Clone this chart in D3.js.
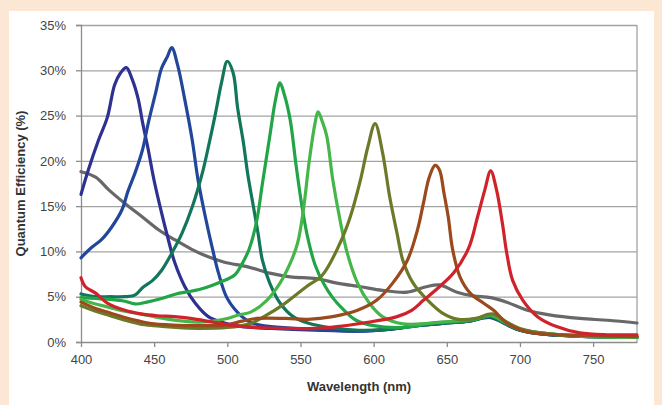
<!DOCTYPE html>
<meta charset="utf-8">
<style>
  body { margin: 0; background: #fce6d4; }
  svg { display: block; }
  .tick text { font-family: "Liberation Sans", Arial, sans-serif; font-size: 13px; fill: #444; }
  .title { font-family: "Liberation Sans", Arial, sans-serif; font-size: 13px; font-weight: bold; fill: #333; }
  .line { fill: none; stroke-width: 3.2; stroke-linejoin: round; stroke-linecap: round; }
</style>
<body>
<div id="chart"></div>
<script src="https://d3js.org/d3.v7.min.js"></script>
<script>
// axis ticks
var xTicks = [400, 450, 500, 550, 600, 650, 700, 750];
var yTicks = [0, 5, 10, 15, 20, 25, 30, 35];

// series: [wavelength nm, QE %]
var qe430 = [[400,16.3],[405,19.0],[412,22.3],[418,24.8],[423,28.4],[427,29.7],[431,30.3],[435,29.0],[439,26.9],[442,24.3],[446,21.2],[450,17.8],[455,14.3],[460,11.1],[464,8.8],[471,6.1],[478,4.3],[487,2.8],[498,2.1],[510,1.7],[530,1.5],[560,1.3],[590,1.2],[610,1.4],[630,1.8],[650,2.1],[665,2.3],[680,2.7],[690,2.0],[700,1.3],[720,0.8],[750,0.6],[780,0.5]];
var qe462 = [[400,9.3],[407,10.4],[414,11.3],[421,12.7],[428,14.6],[432,16.6],[437,18.7],[442,21.2],[446,24.2],[451,27.5],[455,30.2],[459,31.5],[462,32.5],[466,30.6],[471,26.7],[476,22.3],[480,17.9],[485,13.8],[490,10.2],[494,7.6],[500,4.8],[510,2.8],[517,2.1],[530,1.7],[560,1.4],[590,1.2],[610,1.4],[630,1.8],[650,2.1],[665,2.3],[680,2.8],[690,2.0],[700,1.3],[720,0.8],[750,0.6],[780,0.5]];
var qe500 = [[400,5.3],[410,5.0],[420,5.0],[430,5.0],[437,5.2],[442,6.0],[449,6.8],[455,7.9],[462,9.8],[469,12.0],[476,14.9],[483,18.7],[487,21.5],[492,25.3],[496,28.6],[500,31.0],[504,29.7],[507,25.9],[511,22.0],[514,18.5],[518,14.8],[521,12.0],[524,9.0],[529,6.5],[536,4.3],[545,2.8],[555,2.1],[570,1.6],[590,1.3],[610,1.4],[630,1.8],[650,2.1],[665,2.3],[680,2.8],[690,2.0],[700,1.3],[720,0.8],[750,0.6],[780,0.5]];
var qe536 = [[400,4.9],[410,4.8],[420,4.7],[430,4.5],[437,4.2],[445,4.4],[455,4.8],[465,5.3],[475,5.6],[485,6.0],[495,6.6],[505,7.4],[510,8.6],[515,10.3],[520,13.3],[524,17.5],[529,22.7],[533,26.8],[536,28.6],[539,27.3],[543,24.5],[547,19.5],[551,15.0],[555,11.5],[560,8.5],[566,6.4],[572,4.9],[578,3.8],[588,2.4],[600,1.8],[620,1.6],[640,2.1],[660,2.3],[670,2.5],[680,2.9],[690,2.1],[700,1.4],[720,0.9],[750,0.6],[780,0.5]];
var qe562 = [[400,4.7],[410,4.2],[420,3.8],[430,3.4],[440,3.1],[450,2.8],[460,2.5],[470,2.3],[480,2.2],[490,2.3],[500,2.6],[508,3.0],[516,3.3],[527,4.6],[536,6.5],[543,8.7],[548,10.9],[552,14.6],[556,20.0],[560,24.2],[562,25.4],[565,24.3],[568,22.7],[572,18.0],[577,13.5],[582,9.8],[589,6.5],[597,4.3],[606,2.8],[620,2.0],[640,2.1],[660,2.4],[670,2.6],[680,3.0],[690,2.2],[700,1.4],[720,0.9],[750,0.6],[780,0.5]];
var qe601 = [[400,4.0],[410,3.4],[420,2.9],[430,2.4],[440,2.0],[450,1.8],[465,1.6],[480,1.5],[500,1.6],[515,2.0],[525,2.8],[538,4.1],[554,6.1],[565,7.4],[577,10.9],[584,13.8],[591,17.9],[596,21.5],[601,24.1],[606,21.0],[611,16.0],[616,12.0],[620,9.0],[627,6.5],[637,4.6],[647,3.2],[658,2.5],[670,2.6],[681,3.1],[690,2.3],[700,1.5],[720,0.9],[750,0.7],[780,0.6]];
var qe642 = [[400,4.4],[410,3.7],[420,3.2],[430,2.7],[440,2.3],[450,2.0],[460,1.9],[480,1.8],[500,1.9],[510,2.3],[520,2.6],[540,2.6],[555,2.5],[572,2.8],[589,3.5],[602,4.6],[613,6.5],[623,9.0],[630,12.4],[634,15.3],[638,18.2],[642,19.5],[645,19.0],[648,16.5],[651,13.8],[654,10.2],[659,7.2],[666,5.4],[675,4.3],[682,3.5],[691,2.1],[705,1.1],[725,0.8],[750,0.7],[780,0.6]];
var qe680 = [[400,7.1],[403,6.1],[410,5.4],[418,4.3],[430,3.5],[441,3.1],[452,2.9],[464,2.8],[475,2.6],[490,2.2],[505,1.8],[520,1.6],[540,1.5],[560,1.5],[575,1.7],[593,2.1],[616,2.8],[626,3.5],[634,4.6],[645,6.1],[655,7.7],[665,10.4],[671,13.8],[676,16.8],[680,18.9],[684,16.8],[688,13.1],[691,9.8],[695,6.8],[702,4.6],[712,2.8],[725,1.7],[741,1.0],[760,0.8],[780,0.8]];
var qeMono = [[400,18.8],[410,18.2],[419,16.8],[430,15.3],[442,13.8],[453,12.4],[464,11.3],[476,10.2],[487,9.4],[498,8.8],[514,8.3],[529,7.6],[543,7.2],[561,7.0],[575,6.5],[591,6.1],[606,5.7],[623,5.5],[636,6.1],[645,6.3],[657,5.5],[668,5.1],[680,4.9],[691,4.4],[705,3.5],[720,3.0],[741,2.6],[760,2.4],[780,2.1]];

var series = [qeMono, qe430, qe462, qe500, qe536, qe562, qe601, qe642, qe680];
var colors = ["#686868", "#2e3192", "#22479a", "#12775a", "#22a546", "#45b649", "#6b7a29", "#9a4a1d", "#d0222b"];

var width = 662,
    height = 405,
    margin = {top: 25, right: 25, bottom: 63, left: 81};

var svg = d3.select("#chart").append("svg")
    .attr("width", width)
    .attr("height", height);

// white panel inside the peach frame
svg.append("rect")
    .attr("x", 9).attr("y", 11)
    .attr("width", 645).attr("height", height - 11)
    .attr("fill", "#fff");

var x = d3.scaleLinear()
    .domain([400, 780])
    .range([margin.left, width - margin.right]);

var y = d3.scaleLinear()
    .domain([0, 35])
    .range([height - margin.bottom, margin.top]);

// horizontal gridlines
svg.append("g")
    .attr("transform", "translate(" + margin.left + ",0)")
    .call(d3.axisLeft(y).tickValues(yTicks.slice(1)).tickSize(-(width - margin.left - margin.right)).tickFormat(""))
    .call(function(g) { g.select(".domain").remove(); })
    .selectAll("line").attr("stroke", "#a3a3a3").attr("stroke-width", 1.3);

// right border of plot area
svg.append("line")
    .attr("x1", x(780)).attr("x2", x(780))
    .attr("y1", y(35)).attr("y2", y(0))
    .attr("stroke", "#a3a3a3").attr("stroke-width", 1.3);

// y axis
var yAxis = svg.append("g")
    .attr("transform", "translate(" + margin.left + ",0)")
    .call(d3.axisLeft(y).tickValues(yTicks).tickSize(5).tickPadding(10).tickFormat(function(d) { return d + "%"; }));
yAxis.selectAll("line, .domain").attr("stroke", "#8c8c8c").attr("stroke-width", 1.3);

// x axis
var xAxis = svg.append("g")
    .attr("transform", "translate(0," + y(0) + ")")
    .call(d3.axisBottom(x).tickValues(xTicks).tickSize(5).tickPadding(8).tickSizeOuter(0));
xAxis.selectAll("line, .domain").attr("stroke", "#8c8c8c").attr("stroke-width", 1.3);

// curves
var line = d3.line()
    .x(function(d) { return x(d[0]); })
    .y(function(d) { return y(d[1]); })
    .curve(d3.curveCatmullRom.alpha(0.5));

svg.selectAll(".line")
    .data(series)
  .enter().append("path")
    .attr("class", "line")
    .attr("d", line)
    .attr("stroke", function(d, i) { return colors[i]; });

// axis titles
svg.append("text")
    .attr("class", "title")
    .attr("x", (margin.left + width - margin.right) / 2)
    .attr("y", 391)
    .attr("text-anchor", "middle")
    .text("Wavelength (nm)");

svg.append("text")
    .attr("class", "title")
    .attr("transform", "translate(25," + (margin.top + height - margin.bottom) / 2 + ") rotate(-90)")
    .attr("text-anchor", "middle")
    .text("Quantum Efficiency (%)");
</script>
</body>
